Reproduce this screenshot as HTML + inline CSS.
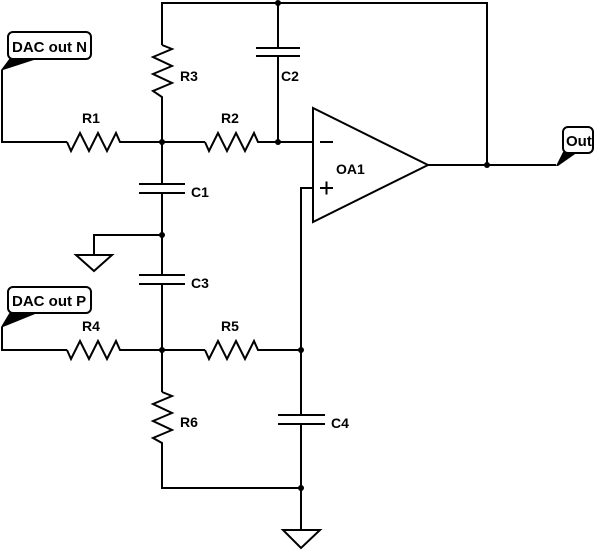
<!DOCTYPE html>
<html><head><style>html,body{margin:0;padding:0;background:#fff;}svg{display:block}</style></head>
<body>
<svg width="600" height="550" viewBox="0 0 600 550" xmlns="http://www.w3.org/2000/svg" font-family="Liberation Sans, Arial, sans-serif" font-weight="bold" font-size="14">
<g fill="none" stroke="#000" stroke-width="2" stroke-linejoin="miter">
<polyline points="162,45 162,3 487,3 487,165"/>
<line x1="278" y1="3" x2="278" y2="48"/>
<line x1="278" y1="56" x2="278" y2="142"/>
<line x1="256" y1="48" x2="300" y2="48"/><line x1="256" y1="56" x2="300" y2="56"/>
<polyline points="162,45 172,49 153,57 172,66 153,74 172,83 153,91 162,97 162,142"/>
<polyline points="2,70 2,142 67,142"/>
<polyline points="67,142 71,151 80,133 89,151 98,133 107,151 116,133 120,142 205,142"/>
<polyline points="205,142 209,151 218,133 227,151 236,133 245,151 254,133 258,142 313,142"/>
<line x1="162" y1="142" x2="162" y2="184"/>
<line x1="139" y1="184" x2="185" y2="184"/><line x1="139" y1="193" x2="185" y2="193"/>
<line x1="162" y1="193" x2="162" y2="275"/>
<polyline points="162,235 94,235 94,255"/>
<polygon points="76,255 112,255 94,271"/>
<line x1="139" y1="275" x2="185" y2="275"/><line x1="139" y1="284" x2="185" y2="284"/>
<line x1="162" y1="284" x2="162" y2="392"/>
<polyline points="2,327 2,350 67,350"/>
<polyline points="67,350 71,359 80,341 89,359 98,341 107,359 116,341 120,350 205,350"/>
<polyline points="205,350 209,359 218,341 227,359 236,341 245,359 254,341 258,350 301,350"/>
<polyline points="162,392 172,396 153,404 172,413 153,421 172,430 153,438 162,443 162,488 301,488"/>
<polyline points="313,188 301,188 301,415"/>
<line x1="278" y1="415" x2="325" y2="415"/><line x1="278" y1="424" x2="325" y2="424"/>
<line x1="301" y1="424" x2="301" y2="530"/>
<polygon points="283,530 320,530 301,548"/>
<polygon points="313,108 313,222 428,165"/>
<polyline points="428,165 556,165"/>
<line x1="320" y1="142" x2="333" y2="142"/>
<line x1="320" y1="188" x2="333" y2="188"/><line x1="326.5" y1="181.5" x2="326.5" y2="194.5"/>
<rect x="8" y="32" width="83" height="27" rx="5"/>
<rect x="8" y="287" width="83" height="26" rx="5"/>
<rect x="563" y="127" width="30" height="26" rx="5"/>
</g>
<g fill="#000" stroke="none">
<polygon points="1,70 10,58 40,58 3,70"/>
<polygon points="1,327 10,312 40,312 3,327"/>
<polygon points="556,166 563,152 578,152 558,166"/>
<circle cx="278" cy="3" r="3"/><circle cx="162" cy="142" r="3"/><circle cx="278" cy="142" r="3"/>
<circle cx="162" cy="235" r="3"/><circle cx="162" cy="350" r="3"/><circle cx="301" cy="350" r="3"/>
<circle cx="301" cy="488" r="3"/><circle cx="487" cy="165" r="3"/>
<text x="12" y="52" font-size="15">DAC out N</text>
<text x="12" y="306" font-size="15">DAC out P</text>
<text x="566" y="146" font-size="15">Out</text>
<text x="180" y="81">R3</text>
<text x="281" y="81">C2</text>
<text x="82" y="123">R1</text>
<text x="221" y="123">R2</text>
<text x="191" y="197">C1</text>
<text x="191" y="288">C3</text>
<text x="82" y="331">R4</text>
<text x="221" y="331">R5</text>
<text x="180" y="427">R6</text>
<text x="331" y="428">C4</text>
<text x="336" y="174">OA1</text>
</g>
</svg>
</body></html>
